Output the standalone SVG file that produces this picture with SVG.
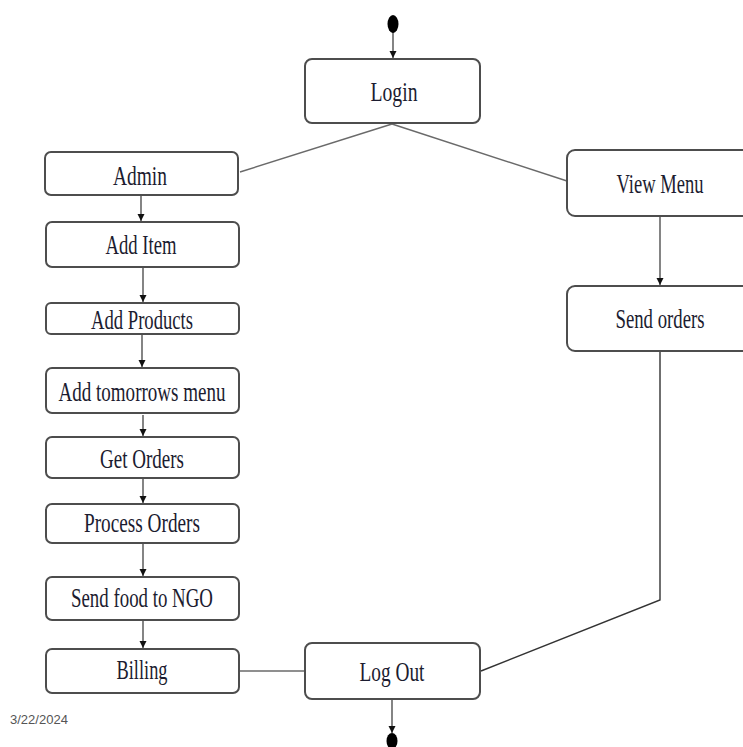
<svg xmlns="http://www.w3.org/2000/svg" width="743" height="747" viewBox="0 0 743 747">
<defs>
<marker id="arr" markerWidth="8" markerHeight="8" refX="7" refY="4" orient="auto" markerUnits="userSpaceOnUse">
<path d="M0,0.5 L7,4 L0,7.5 Z" fill="#111"/>
</marker>
<style>
.box{fill:#fff;stroke:#4d4d4d;stroke-width:2}
.lbl{font-family:"Liberation Serif","Times New Roman",serif;font-size:27px;fill:#1c1c30;text-anchor:middle}
.ln{stroke:#6a6a6a;stroke-width:1.4;fill:none}
.ar{stroke:#333;stroke-width:1.2;fill:none;marker-end:url(#arr)}
.dot{fill:#000}
</style>
</defs>
<rect width="743" height="747" fill="#fff"/>
<g id="connectors">
<line class="ar" x1="393" y1="32" x2="393" y2="58"/>
<line class="ln" x1="392" y1="124" x2="240" y2="172"/>
<line class="ln" x1="392" y1="124" x2="567" y2="181"/>
<line class="ar" x1="141" y1="196" x2="141" y2="221"/>
<line class="ar" x1="143" y1="268" x2="143" y2="302"/>
<line class="ar" x1="142" y1="335" x2="142" y2="367"/>
<line class="ar" x1="143" y1="415" x2="143" y2="436"/>
<line class="ar" x1="143" y1="479" x2="143" y2="503"/>
<line class="ar" x1="143" y1="544" x2="143" y2="576"/>
<line class="ar" x1="143" y1="621" x2="143" y2="648"/>
<line class="ln" x1="240" y1="671" x2="305" y2="671"/>
<line class="ar" x1="392" y1="700" x2="392" y2="733"/>
<line class="ar" x1="660" y1="216" x2="660" y2="285"/>
<polyline class="ln" points="660,352 660,600 481,671" style="stroke:#333"/>
</g>
<g id="start"><ellipse class="dot" cx="393" cy="24" rx="5.5" ry="9"/></g>
<g id="end"><ellipse class="dot" cx="392" cy="741" rx="5.5" ry="8"/></g>
<g id="login"><rect class="box" x="305" y="59" width="175" height="64" rx="7"/><text class="lbl" x="394" y="101" textLength="47" lengthAdjust="spacingAndGlyphs">Login</text></g>
<g id="admin"><rect class="box" x="45" y="152" width="193" height="43" rx="6"/><text class="lbl" x="140" y="185" textLength="54" lengthAdjust="spacingAndGlyphs">Admin</text></g>
<g id="additem"><rect class="box" x="46" y="222" width="193" height="45" rx="6"/><text class="lbl" x="141" y="254" textLength="71" lengthAdjust="spacingAndGlyphs">Add Item</text></g>
<g id="addproducts"><rect class="box" x="46" y="303" width="193" height="31" rx="5"/><text class="lbl" x="142" y="329" textLength="102" lengthAdjust="spacingAndGlyphs">Add Products</text></g>
<g id="addmenu"><rect class="box" x="46" y="368" width="193" height="45" rx="6"/><text class="lbl" x="142" y="401" textLength="167" lengthAdjust="spacingAndGlyphs">Add tomorrows menu</text></g>
<g id="getorders"><rect class="box" x="46" y="437" width="193" height="41" rx="6"/><text class="lbl" x="142" y="468" textLength="84" lengthAdjust="spacingAndGlyphs">Get Orders</text></g>
<g id="processorders"><rect class="box" x="46" y="504" width="193" height="39" rx="6"/><text class="lbl" x="142" y="532" textLength="116" lengthAdjust="spacingAndGlyphs">Process Orders</text></g>
<g id="sendfood"><rect class="box" x="46" y="577" width="193" height="43" rx="6"/><text class="lbl" x="142" y="607" textLength="142" lengthAdjust="spacingAndGlyphs">Send food to NGO</text></g>
<g id="billing"><rect class="box" x="46" y="649" width="193" height="44" rx="6"/><text class="lbl" x="142" y="679" textLength="51" lengthAdjust="spacingAndGlyphs">Billing</text></g>
<g id="logout"><rect class="box" x="305" y="643" width="175" height="56" rx="7"/><text class="lbl" x="392" y="681" textLength="65" lengthAdjust="spacingAndGlyphs">Log Out</text></g>
<g id="viewmenu"><rect class="box" x="567" y="150" width="190" height="66" rx="8"/><text class="lbl" x="660" y="193" textLength="87" lengthAdjust="spacingAndGlyphs">View Menu</text></g>
<g id="sendorders"><rect class="box" x="567" y="286" width="190" height="65" rx="8"/><text class="lbl" x="660" y="328" textLength="89" lengthAdjust="spacingAndGlyphs">Send orders</text></g>
<text x="10" y="724" font-family="'Liberation Sans',Arial,sans-serif" font-size="13" fill="#555" textLength="58" lengthAdjust="spacingAndGlyphs">3/22/2024</text>
</svg>
